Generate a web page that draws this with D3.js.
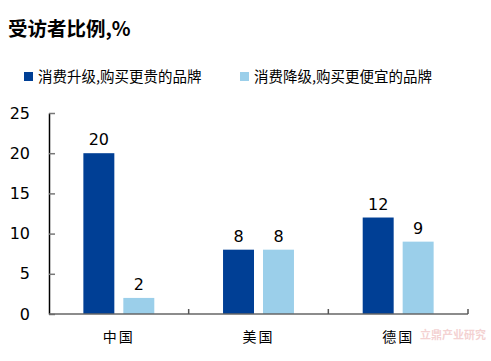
<!DOCTYPE html>
<html><head><meta charset="utf-8">
<script src="https://cdn.jsdelivr.net/npm/d3@7"></script>
<style>body{margin:0;background:#fff}</style>
</head><body>
<svg id="c" width="491" height="361"></svg>
<script>
const categories = ["中国", "美国", "德国"];
const seriesNames = ["消费升级,购买更贵的品牌", "消费降级,购买更便宜的品牌"];
const upgrade = [20, 8, 12];
const downgrade = [2, 8, 9];
const yTicks = [0, 5, 10, 15, 20, 25];
const colors = ["#003f95", "#9bcfea"];

const svg = d3.select("#c");
const m = {l: 49, r: 468, t: 113, b: 314};
const x0 = d3.scaleBand().domain(categories).range([m.l, m.r]).paddingInner(0).paddingOuter(0);
const x1 = d3.scaleBand().domain([0, 1]).range([0, x0.bandwidth()]).paddingInner(0.225).paddingOuter(0.86);
const y = d3.scaleLinear().domain([0, 25]).range([m.b, m.t]);

const cjk = "'Noto Sans CJK SC', sans-serif";
const num = "'DejaVu Sans', Verdana, sans-serif";

svg.append("text").attr("x", 8).attr("y", 36).text("受访者比例,%")
  .attr("font-family", cjk).attr("font-weight", "bold").attr("font-size", 19.5).attr("fill", "#000");

// legend
const lx = [24, 240];
seriesNames.forEach((n, i) => {
  svg.append("rect").attr("x", lx[i]).attr("y", 72).attr("width", 9).attr("height", 9).attr("fill", colors[i]);
  svg.append("text").attr("x", lx[i] + 14).attr("y", 82).text(n)
    .attr("font-family", cjk).attr("font-size", 14.5).attr("fill", "#000");
});

// bars
const data = categories.map((c, i) => ({c, v: [upgrade[i], downgrade[i]]}));
const g = svg.append("g");
data.forEach(d => {
  d.v.forEach((v, s) => {
    const bx = x0(d.c) + x1(s);
    g.append("rect").attr("x", bx).attr("y", y(v)).attr("width", x1.bandwidth())
      .attr("height", y(0) - y(v)).attr("fill", colors[s]);
    g.append("text").attr("x", bx + x1.bandwidth() / 2).attr("y", y(v) - 8).text(v)
      .attr("text-anchor", "middle").attr("font-family", num).attr("font-size", 16).attr("fill", "#000");
  });
});

// y axis
const ya = d3.axisLeft(y).tickValues(yTicks).tickSizeInner(-6).tickSizeOuter(0).tickPadding(19);
const yg = svg.append("g").attr("transform", `translate(${m.l},0)`).call(ya);
yg.select(".domain").attr("stroke", "#000").attr("stroke-width", 1.5);
yg.selectAll(".tick line").attr("stroke", "#777").attr("stroke-width", 1.5);
yg.selectAll(".tick text").attr("font-family", num).attr("font-size", 16).attr("fill", "#000");

// x axis
svg.append("line").attr("x1", m.l).attr("x2", m.r).attr("y1", m.b).attr("y2", m.b)
  .attr("stroke", "#666").attr("stroke-width", 1.5);
categories.forEach(c => {
  const xe = x0(c) + x0.bandwidth();
  svg.append("line").attr("x1", xe).attr("x2", xe).attr("y1", m.b).attr("y2", m.b - 5)
    .attr("stroke", "#555").attr("stroke-width", 1.5);
  svg.append("text").attr("x", x0(c) + x0.bandwidth() / 2).attr("y", 342).text(c)
    .attr("text-anchor", "middle").attr("font-family", cjk).attr("font-size", 14)
    .attr("letter-spacing", 2).attr("fill", "#000");
});

// watermark
svg.append("text").attr("x", 420).attr("y", 339).text("立鼎产业研究")
  .attr("font-family", cjk).attr("font-weight", "bold").attr("font-size", 11)
  .attr("fill", "#e08080").attr("opacity", 0.35);
</script>
</body></html>
